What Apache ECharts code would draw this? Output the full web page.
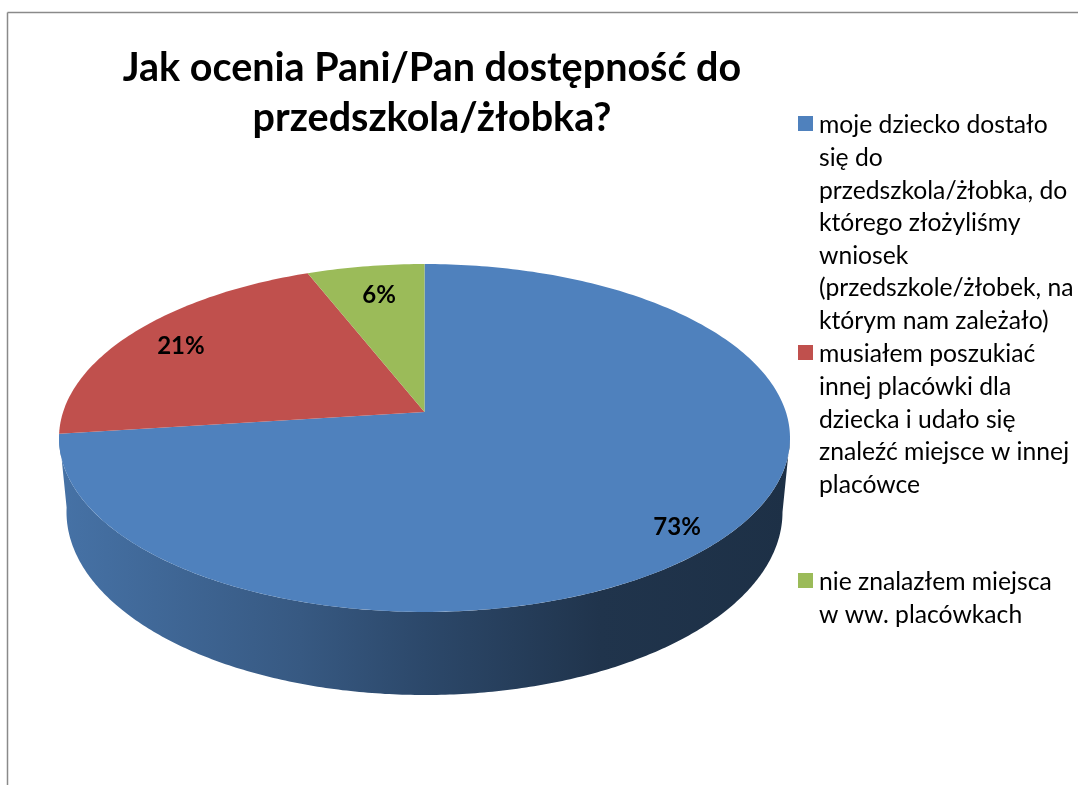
<!DOCTYPE html>
<html lang="pl">
<head>
<meta charset="utf-8">
<title>Jak ocenia Pani/Pan dostępność do przedszkola/żłobka?</title>
<style>html,body{margin:0;padding:0;background:#fff}#c{width:1078px;height:785px}</style>
<script src="https://cdn.jsdelivr.net/npm/echarts@6/dist/echarts.min.js"></script>
</head>
<body>
<div id="c"></div>
<script>
const titleLines = ['Jak ocenia Pani/Pan dostępność do', 'przedszkola/żłobka?'];
const categories = [
  'moje dziecko dostało\nsię do\nprzedszkola/żłobka, do\nktórego złożyliśmy\nwniosek\n(przedszkole/żłobek, na\nktórym nam zależało)',
  'musiałem poszukiać\ninnej placówki dla\ndziecka i udało się\nznaleźć miejsce w innej\nplacówce',
  'nie znalazłem miejsca\nw ww. placówkach'
];
const values = [73, 21, 6];
const colors = ['#4f81bd', '#c0504d', '#9bbb59'];

const FONT = 'Lato';
const LEGEND_LH = 32.6;
const LEGEND_TEXT_DROP = 2;
const legendIconCenters = [123.5, 352.5, 580.5];
const labelRadius = [0.85, 0.8, 0.8];
const labelShift = [[1, 11], [-9, 0], [3, 3]];
const shadeStops = [[0, .88], [.33, .69], [.5, .56], [.74, .40], [1, .37]];

// Perspective view of the pie's top disc (unit circle -> screen)
const P = { a: 361.4, b: 108.5, c: 412, k: -0.1494, x0: 424.5 };
const TOP = { cx: 424.5, cy: 438, rx: 365.5, ry: 174 };
const BOTTOM = { cx: 424.5, cy: 512, rx: 358, ry: 183 };

function project(phi, f) {
  const u = Math.sin(phi) * f, v = -Math.cos(phi) * f;
  const w = 1 + P.k * v;
  return [P.x0 + P.a * u / w, (P.c + P.b * v) / w];
}
function rimBelow(pt) {
  const al = Math.atan2((pt[1] - TOP.cy) / TOP.ry, (pt[0] - TOP.cx) / TOP.rx);
  return [BOTTOM.cx + BOTTOM.rx * Math.cos(al), BOTTOM.cy + BOTTOM.ry * Math.sin(al)];
}
const total = values.reduce((s, v) => s + v, 0);
function shade(hex, m) {
  const n = parseInt(hex.slice(1), 16);
  return 'rgb(' + [n >> 16 & 255, n >> 8 & 255, n & 255].map(c => Math.round(c * m)).join(',') + ')';
}
const PHI_FRONT_A = 98.6 * Math.PI / 180, PHI_FRONT_B = 262.8 * Math.PI / 180;

function makeRender(idx) {
  return function (params, api) {
    const val = api.value(0);
    const before = values.slice(0, idx).reduce((s, v) => s + v, 0);
    const a0 = before / total * 2 * Math.PI;
    const a1 = (before + val) / total * 2 * Math.PI;
    const children = [];
    const steps = Math.max(8, Math.ceil((a1 - a0) * 60));

    // side wall (only the part turned toward the viewer)
    const w0 = Math.max(a0, PHI_FRONT_A), w1 = Math.min(a1, PHI_FRONT_B);
    if (w1 > w0) {
      const topArc = [], botArc = [];
      for (let i = 0; i <= steps; i++) {
        const p = project(w0 + (w1 - w0) * i / steps, 1);
        topArc.push(p);
        botArc.push(rimBelow(p));
      }
      children.push({
        type: 'polygon',
        shape: { points: topArc.concat(botArc.reverse()) },
        style: {
          fill: {
            type: 'linear', x: 59, y: 0, x2: 790, y2: 0, global: true,
            colorStops: shadeStops.map(s => ({ offset: s[0], color: shade(colors[idx], s[1]) }))
          }
        }
      });
    }

    // top face
    const pts = [project(0, 0)];
    for (let i = 0; i <= steps; i++) pts.push(project(a0 + (a1 - a0) * i / steps, 1));
    children.push({ type: 'polygon', shape: { points: pts }, style: { fill: colors[idx] } });

    // value label
    const lp = project((a0 + a1) / 2, labelRadius[idx]);
    children.push({
      type: 'text',
      style: {
        text: Math.round(val / total * 100) + '%',
        x: lp[0] + labelShift[idx][0], y: lp[1] + labelShift[idx][1],
        align: 'center', verticalAlign: 'middle',
        fontFamily: FONT, fontWeight: 'bold', fontSize: 24, fill: '#000'
      }
    });
    return { type: 'group', children };
  };
}

// Wall must stay under the later top faces: blue is first, so it is drawn first.
const series = categories.map((name, i) => ({
  type: 'custom',
  name,
  coordinateSystem: 'none',
  clip: false,
  silent: true,
  color: colors[i],
  itemStyle: { color: colors[i] },
  data: [[values[i]]],
  renderItem: makeRender(i)
}));

const legends = categories.map((name, i) => {
  const n = name.split('\n').length;
  return {
    data: [name],
    orient: 'vertical',
    left: 798,
    top: legendIconCenters[i] + LEGEND_TEXT_DROP - (2 * n - 1) * LEGEND_LH / 2,
    itemWidth: 15, itemHeight: 15 + 2 * LEGEND_TEXT_DROP, itemGap: 0,
    icon: 'path://M0,0H15V15H0Z M0,' + (15 + 2 * LEGEND_TEXT_DROP) + 'L0,' + (15 + 2 * LEGEND_TEXT_DROP),
    padding: 0,
    selectedMode: false,
    formatter: t => '\n'.repeat(n - 1) + t,
    textStyle: { fontFamily: FONT, fontSize: 24.7, lineHeight: LEGEND_LH, color: '#000', padding: [0, 0, 0, 1] }
  };
});

const chart = echarts.init(document.getElementById('c'), null, { renderer: 'canvas' });
chart.setOption({
  backgroundColor: '#fff',
  animation: false,
  title: {
    text: titleLines.join('\n'),
    left: 432, top: 43, textAlign: 'center', padding: 0,
    textStyle: { fontFamily: FONT, fontWeight: 'bold', fontSize: 39.5, lineHeight: 50, color: '#000' }
  },
  legend: legends,
  series,
  graphic: [
    { type: 'line', silent: true, shape: { x1: 7.5, y1: 12.5, x2: 1078, y2: 12.5 }, style: { stroke: '#8a8a8a', lineWidth: 1.5 } },
    { type: 'line', silent: true, shape: { x1: 7.5, y1: 12.5, x2: 7.5, y2: 785 }, style: { stroke: '#8a8a8a', lineWidth: 1.5 } }
  ]
});
</script>
</body>
</html>
